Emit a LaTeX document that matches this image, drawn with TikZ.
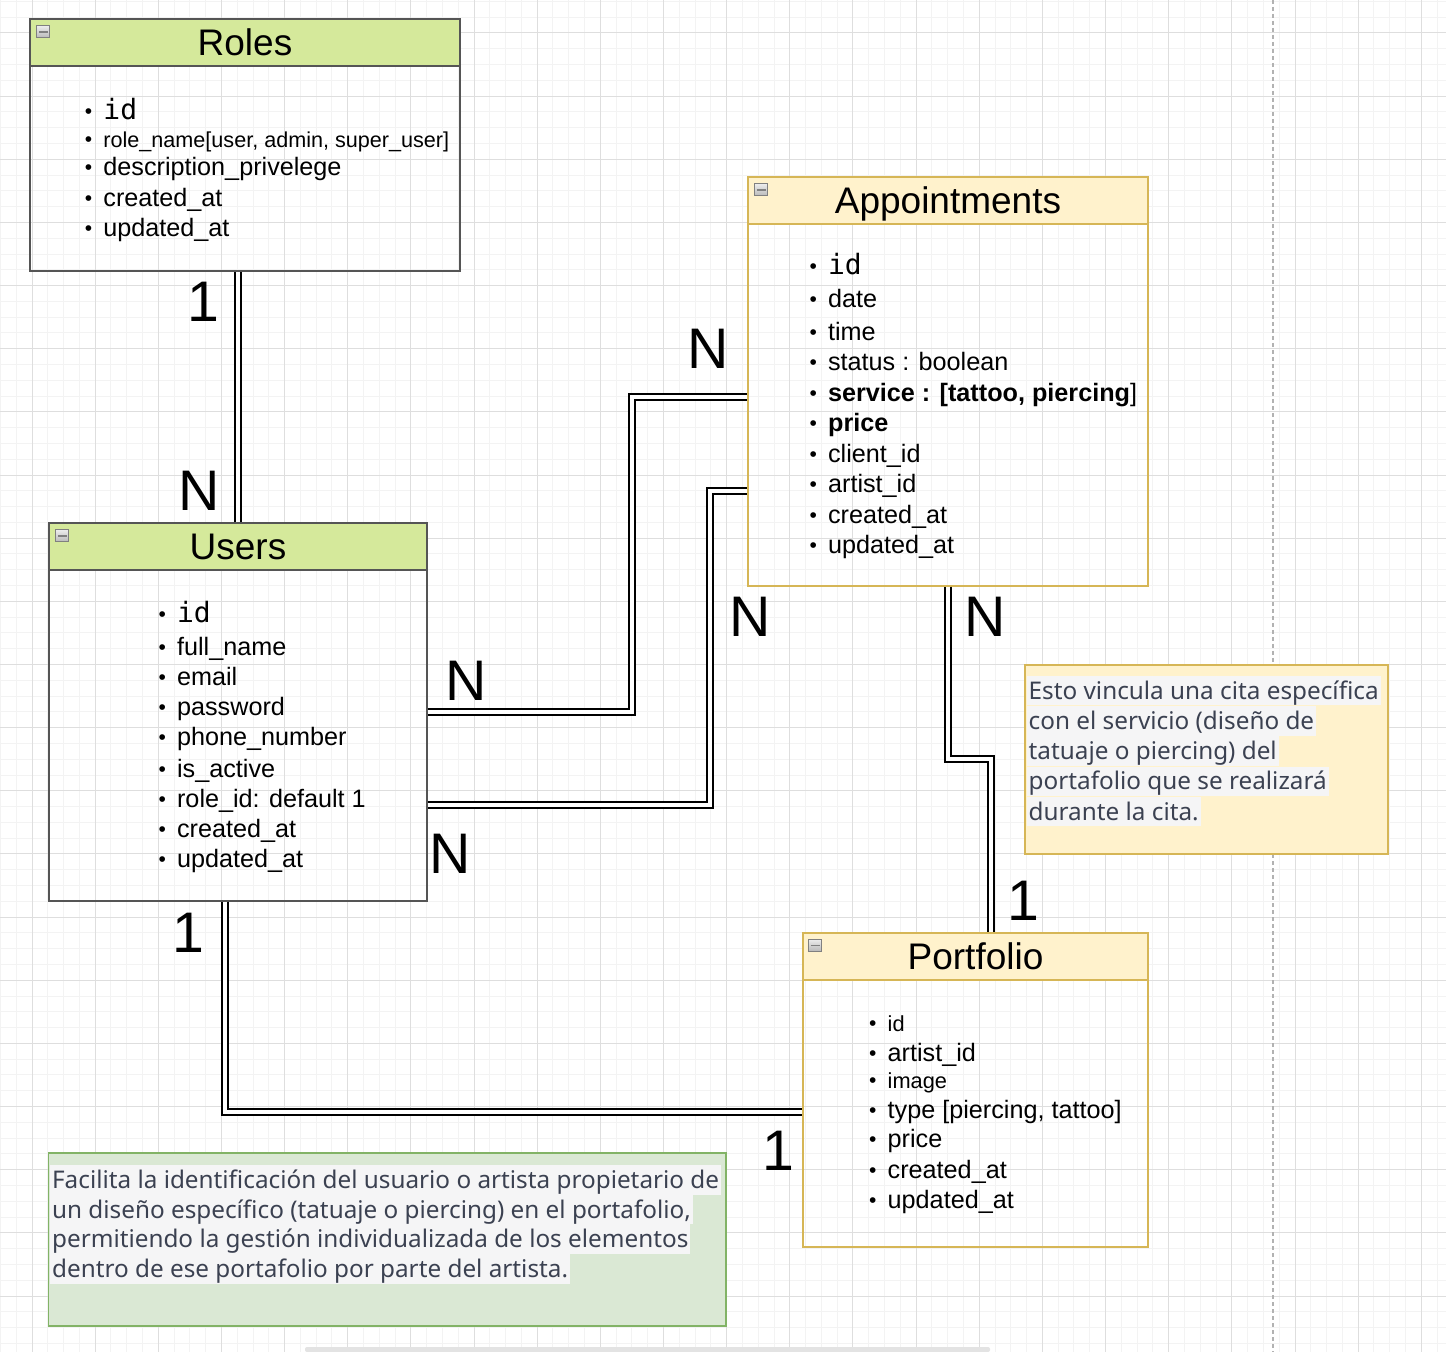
\documentclass[tikz,border=0pt]{standalone}
\usepackage{fontspec}
\setmainfont{Liberation Sans}
\newfontfamily\idmono{DejaVu Sans Mono}
\newfontfamily\notefam{Noto Sans}
\usetikzlibrary{fit,calc}

\definecolor{gridminor}{RGB}{243,243,243}
\definecolor{gridmajor}{RGB}{222,222,222}
\definecolor{greenhead}{RGB}{213,233,155}
\definecolor{greenline}{RGB}{85,85,85}
\definecolor{yellowfill}{RGB}{255,242,204}
\definecolor{yellowline}{RGB}{214,182,86}
\definecolor{notegreen}{RGB}{218,232,212}
\definecolor{notegreenline}{RGB}{130,179,102}
\definecolor{notetext}{RGB}{59,65,81}
\definecolor{notehl}{RGB}{245,245,246}

\newcommand{\titlefont}{\fontsize{18.5}{20}\selectfont}
\newcommand{\fieldfont}{\fontsize{12.6}{15}\selectfont}
\newcommand{\smallfield}{\fontsize{10.9}{13}\selectfont}
\newcommand{\idf}{\idmono\fontsize{14}{15}\selectfont}
\newcommand{\cardfont}{\fontsize{28.6}{30}\selectfont}
\newcommand{\notesize}{\notefam\fontsize{12.15}{15}\selectfont}
\newcommand{\fieldbullet}{\llap{\raisebox{0.5pt}{\normalfont\fontsize{10.5}{12}\selectfont\textbullet}\hspace{5.6pt}}}

\begin{document}
\begin{tikzpicture}[x=0.5pt, y=-0.5pt,
  entity/.style={draw=#1, line width=0.7pt, inner sep=0pt},
  head/.style 2 args={draw=#2, fill=#1, line width=0.7pt, inner sep=0pt},
  title/.style={anchor=base, inner sep=0pt, font=\titlefont},
  field/.style={anchor=base west, inner sep=0pt, font=\fieldfont},
  minus/.style={draw=gray, top color=gray!15, bottom color=gray!55,
    minimum width=6.5pt, minimum height=6pt, inner sep=0pt,
    path picture={\draw[line width=0.8pt] ([xshift=-2.2pt]path picture bounding box.center)
      -- ([xshift=2.2pt]path picture bounding box.center);}},
  link/.style={draw=black, line width=0.75pt, double=white, double distance=2.25pt},
  card/.style={anchor=base, inner sep=0pt, font=\cardfont},
  note/.style 2 args={draw=#2, fill=#1, line width=0.7pt, inner sep=0pt},
  noteline/.style={anchor=base west, fill=notehl, inner xsep=1pt, inner ysep=0pt,
    text height=11.7pt, text depth=3.1pt, text=notetext, font=\notesize}
]

% Canvas and grid
\useasboundingbox (0,0) rectangle (1446,1352);
\fill[white] (0,0) rectangle (1446,1352);
\foreach \k in {-2,...,90}
  \draw[gridminor, line width=0.5pt] ({32+15.7875*\k},0) -- ++(0,1352);
\foreach \k in {-2,...,85}
  \draw[gridminor, line width=0.5pt] (0,{33+15.7875*\k}) -- ++(1446,0);
\foreach \k in {-1,...,22}
  \draw[gridmajor, line width=0.5pt] ({32+63.15*\k},0) -- ++(0,1352);
\foreach \k in {-1,...,21}
  \draw[gridmajor, line width=0.5pt] (0,{33+63.15*\k}) -- ++(1446,0);
\draw[gray!60, line width=0.6pt, dash pattern=on 2pt off 1.5pt] (1273,0) -- (1273,1352);
\fill[gray!22, rounded corners=1pt] (305,1347) rectangle (990,1352);

% Roles
\node[entity=greenline, fit={(30,19) (460,271)}] (roles) {};
\node[head={greenhead}{greenline}, fit={(30,19) (460,66)}] (rolesh) {};
\node[title] (rolest) at ($(rolesh.center)+(0,13.5)$) {Roles};
\node[minus] (rolesmin) at ($(rolesh.north west)+(14,13.5)$) {};
\foreach \y/\t [count=\i] in {120/{\idf id},
    148/{\fontsize{10.8}{13}\selectfont role\_name[user, admin, super\_user]},
    176/description\_privelege, 207/created\_at, 237/updated\_at}
  \node[field] (roles-f\i) at (103,\y) {\fieldbullet\t};

% Users
\node[entity=greenline, fit={(49,523) (427,901)}] (users) {};
\node[head={greenhead}{greenline}, fit={(49,523) (427,570)}] (usersh) {};
\node[title] (userst) at ($(usersh.center)+(0,13)$) {Users};
\node[minus] (usersmin) at ($(usersh.north west)+(14,13.5)$) {};
\foreach \y/\t [count=\i] in {623/{\idf id}, 655/full\_name, 685/email,
    715/password, 745/phone\_number, 777/is\_active, 807/role\_id: default 1,
    837/created\_at, 867/updated\_at}
  \node[field] (users-f\i) at (176.7,\y) {\fieldbullet\t};

% Appointments
\node[entity=yellowline, fit={(748,177) (1148,586)}] (appts) {};
\node[head={yellowfill}{yellowline}, fit={(748,177) (1148,224)}] (apptsh) {};
\node[title] (apptst) at ($(apptsh.center)+(0,13)$) {Appointments};
\node[minus] (apptsmin) at ($(apptsh.north west)+(14,13.5)$) {};
\foreach \y/\t [count=\i] in {275/{\idf id}, 307.7/date, 340.7/time,
    370.7/status : boolean, 401.7/{\textbf{service : [tattoo, piercing}]},
    431.7/\textbf{price}, 462.7/client\_id, 492.7/artist\_id,
    523.3/created\_at, 553.3/updated\_at}
  \node[field] (appts-f\i) at (827.7,\y) {\fieldbullet\t};

% Portfolio
\node[entity=yellowline, fit={(803,933) (1148,1247)}] (portf) {};
\node[head={yellowfill}{yellowline}, fit={(803,933) (1148,980)}] (portfh) {};
\node[title] (portft) at ($(portfh.center)+(0,13)$) {Portfolio};
\node[minus] (portfmin) at ($(portfh.north west)+(13,13)$) {};
\foreach \y/\t [count=\i] in {1031.7/{\smallfield id}, 1061/artist\_id,
    1088.3/{\smallfield image}, 1118.3/{type [piercing, tattoo]}, 1147.3/price,
    1178.3/created\_at, 1208.3/updated\_at}
  \node[field] (portf-f\i) at (887.3,\y) {\fieldbullet\t};

% Relations
\coordinate (ua) at (632,397);
\coordinate (ub1) at (710,805);
\coordinate (ub2) at (710,491);
\coordinate (ap) at (991,759);
\coordinate (up) at (225,1112);
\draw[link] (users.north) -- (users.north |- roles.south);
\draw[link] (users.east) -| (ua) -- (appts.west |- ua);
\draw[link] (users.east |- ub1) -- (ub1) -- (ub2) -- (appts.west |- ub2);
\draw[link] (appts.south) |- (ap) -- (ap |- portf.north);
\draw[link] (users.south -| up) |- (portf.west |- up);

% Cardinalities
\node[card] (cardRolesOne) at (203,322) {1};
\node[card] (cardUsersN) at (199,511) {N};
\node[card] (cardUsersN2) at (466,700) {N};
\node[card] (cardApptsN) at (708,369) {N};
\node[card] (cardApptsN2) at (750,637) {N};
\node[card] (cardUsersN3) at (450,873) {N};
\node[card] (cardApptsN3) at (985.5,637) {N};
\node[card] (cardPortfOne) at (1023,920) {1};
\node[card] (cardUsersOne) at (188,952) {1};
\node[card] (cardPortfOne2) at (778,1170) {1};

% Notes
\node[note={yellowfill}{yellowline}, fit={(1025,665) (1388,854)}] (notecita) {};
\foreach \y/\t [count=\i] in {699/Esto vincula una cita específica,
    729.3/con el servicio (diseño de, 759.6/tatuaje o piercing) del,
    789.9/portafolio que se realizará, 820.2/durante la cita.}
  \node[noteline] (notecita-\i) at (1026.3,\y) {\t};

\node[note={notegreen}{notegreenline}, fit={(48.5,1153) (726,1326)}] (noteportf) {};
\foreach \y/\t [count=\i] in {1188.3/Facilita la identificación del usuario o artista propietario de,
    1218/{un diseño específico (tatuaje o piercing) en el portafolio,},
    1247.8/permitiendo la gestión individualizada de los elementos,
    1277.6/dentro de ese portafolio por parte del artista.}
  \node[noteline] (noteportf-\i) at (49.7,\y) {\t};

\end{tikzpicture}
\end{document}
